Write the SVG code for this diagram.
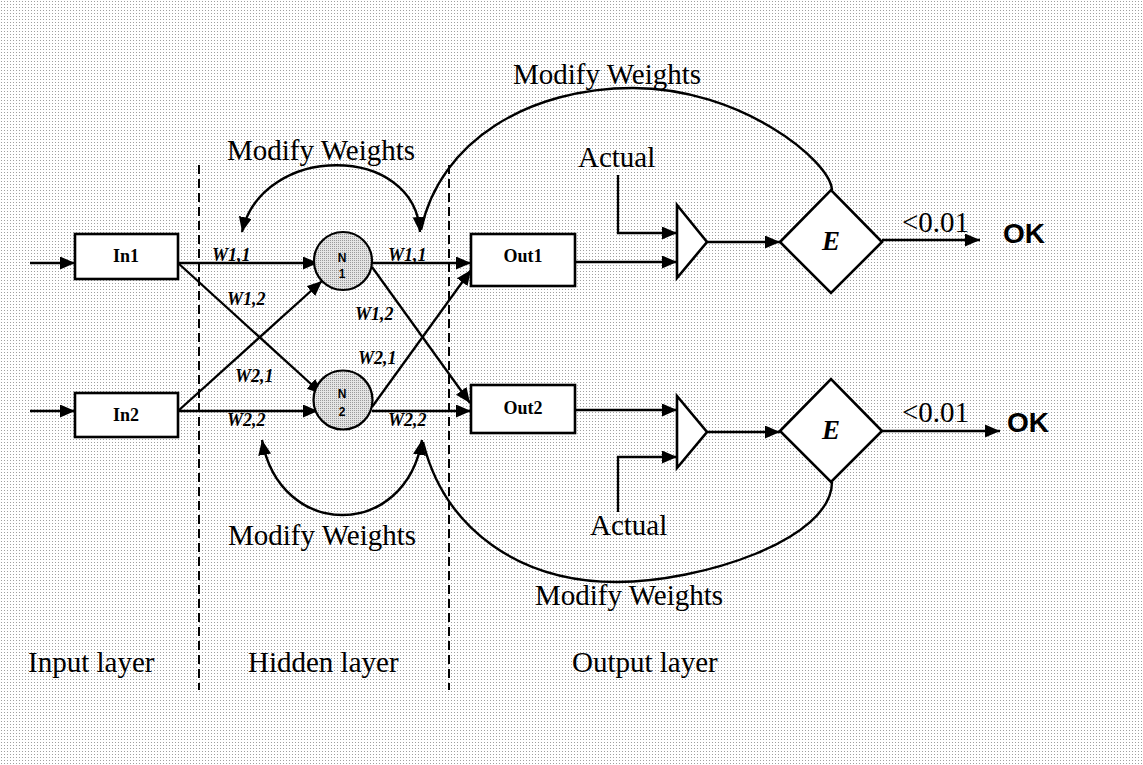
<svg xmlns="http://www.w3.org/2000/svg" width="1143" height="765" viewBox="0 0 1143 765">
  <defs>
    <pattern id="dots" patternUnits="userSpaceOnUse" width="3" height="3">
      <rect width="3" height="3" fill="#ffffff"/>
      <rect x="1" y="1" width="1" height="1" fill="#a0a0a0"/>
    </pattern>
    <pattern id="shade" patternUnits="userSpaceOnUse" width="2" height="2">
      <rect width="2" height="2" fill="#e4e4e4"/>
      <rect x="0" y="0" width="1" height="1" fill="#9a9a9a"/>
    </pattern>
    <marker id="arrow" markerUnits="userSpaceOnUse" markerWidth="16" markerHeight="14" refX="15" refY="6.5" orient="auto-start-reverse">
      <path d="M0,0 L15,6.5 L0,13 Z" fill="#000"/>
    </marker>
    <style>
      .box { fill: #fff; stroke: #000; stroke-width: 2.6; }
      .neuron { fill: url(#shade); stroke: #000; stroke-width: 2.2; }
      .wire { fill: none; stroke: #000; stroke-width: 2.3; }
      .arr { marker-end: url(#arrow); }
      .loop { fill: none; stroke: #000; stroke-width: 2.4; }
      .divider { stroke: #000; stroke-width: 2; stroke-dasharray: 9 5; }
      .lbl { font-family: "Liberation Serif", "Times New Roman", serif; font-size: 29px; fill: #000; }
      .node { font-family: "Liberation Serif", "Times New Roman", serif; font-size: 18px; font-weight: bold; text-anchor: middle; }
      .w { font-family: "Liberation Serif", "Times New Roman", serif; font-size: 18px; font-weight: bold; font-style: italic; }
      .nid { font-family: "Liberation Sans", Arial, sans-serif; font-size: 12px; font-weight: bold; text-anchor: middle; }
      .ok { font-family: "Liberation Sans", Arial, sans-serif; font-size: 28px; font-weight: bold; }
      .err { font-family: "Liberation Serif", "Times New Roman", serif; font-size: 27px; font-weight: bold; font-style: italic; text-anchor: middle; }
    </style>
  </defs>

  <rect width="1143" height="765" fill="url(#dots)"/>

  <!-- layer dividers -->
  <g id="dividers">
    <line class="divider" x1="199" y1="165" x2="199" y2="690"/>
    <line class="divider" x1="449" y1="165" x2="449" y2="690"/>
  </g>

  <!-- connectors -->
  <g id="connectors">
    <line class="wire arr" x1="30" y1="263" x2="75" y2="263"/>
    <line class="wire arr" x1="30" y1="411" x2="75" y2="411"/>

    <line class="wire arr" x1="178" y1="263" x2="318" y2="263"/>
    <line class="wire arr" x1="178" y1="263" x2="322" y2="394"/>
    <line class="wire arr" x1="178" y1="411" x2="322" y2="281"/>
    <line class="wire arr" x1="178" y1="411" x2="318" y2="411"/>

    <line class="wire arr" x1="372" y1="263" x2="471" y2="263"/>
    <line class="wire arr" x1="372" y1="267" x2="470" y2="403"/>
    <line class="wire arr" x1="372" y1="407" x2="471" y2="270"/>
    <line class="wire arr" x1="372" y1="411" x2="471" y2="411"/>

    <line class="wire arr" x1="575" y1="262" x2="677" y2="262"/>
    <polyline class="wire arr" points="618,175 618,233 677,233"/>
    <line class="wire arr" x1="707" y1="242" x2="780" y2="242"/>
    <line class="wire arr" x1="882" y1="240" x2="980" y2="240"/>

    <line class="wire arr" x1="575" y1="410" x2="677" y2="410"/>
    <polyline class="wire arr" points="618,512 618,457 677,457"/>
    <line class="wire arr" x1="707" y1="432" x2="780" y2="432"/>
    <line class="wire arr" x1="882" y1="431" x2="1000" y2="431"/>

    <!-- weight feedback loops -->
    <path class="loop" d="M242,232 C262,143 415,143 420,232" marker-start="url(#arrow)" marker-end="url(#arrow)"/>
    <path class="loop" d="M832,190 C830,160 740,88 633,88 C530,88 440,140 421,230"/>
    <path class="loop" d="M262,440 C280,540 405,540 422,440" marker-start="url(#arrow)" marker-end="url(#arrow)"/>
    <path class="loop" d="M832,482 C832,540 700,582 617,582 C520,582 445,530 423,442"/>
  </g>

  <!-- input layer -->
  <g id="in1">
    <rect class="box" x="75" y="234" width="103" height="45"/>
    <text class="node" x="126" y="262">In1</text>
  </g>
  <g id="in2">
    <rect class="box" x="75" y="393" width="103" height="44"/>
    <text class="node" x="126" y="421">In2</text>
  </g>

  <!-- hidden layer -->
  <g id="n1">
    <circle class="neuron" cx="343" cy="261" r="29"/>
    <text class="nid" x="342" y="262">N</text>
    <text class="nid" x="342" y="278">1</text>
  </g>
  <g id="n2">
    <circle class="neuron" cx="343" cy="400" r="29.5"/>
    <text class="nid" x="342" y="398">N</text>
    <text class="nid" x="342" y="416">2</text>
  </g>

  <!-- output layer -->
  <g id="out1">
    <rect class="box" x="471" y="234" width="104" height="52"/>
    <text class="node" x="523" y="262">Out1</text>
  </g>
  <g id="out2">
    <rect class="box" x="471" y="385" width="104" height="48"/>
    <text class="node" x="523" y="414">Out2</text>
  </g>

  <g id="sum1">
    <polygon class="box" points="677,205 707,242 677,278"/>
  </g>
  <g id="sum2">
    <polygon class="box" points="677,396 707,432 677,468"/>
  </g>

  <g id="err1">
    <polygon class="box" points="780,242 831,190 882,242 831,293"/>
    <text class="err" x="831" y="250">E</text>
  </g>
  <g id="err2">
    <polygon class="box" points="780,431 831,379 882,431 831,482"/>
    <text class="err" x="831" y="439">E</text>
  </g>

  <!-- weight labels -->
  <g id="weights">
    <text class="w" x="212" y="261">W1,1</text>
    <text class="w" x="227" y="305">W1,2</text>
    <text class="w" x="235" y="382">W2,1</text>
    <text class="w" x="227" y="426">W2,2</text>
    <text class="w" x="388" y="261">W1,1</text>
    <text class="w" x="355" y="320">W1,2</text>
    <text class="w" x="358" y="364">W2,1</text>
    <text class="w" x="388" y="426">W2,2</text>
  </g>

  <!-- annotations -->
  <g id="labels">
    <text class="lbl" x="513" y="84">Modify Weights</text>
    <text class="lbl" x="227" y="160">Modify Weights</text>
    <text class="lbl" x="228" y="545">Modify Weights</text>
    <text class="lbl" x="535" y="605">Modify Weights</text>
    <text class="lbl" x="578" y="167">Actual</text>
    <text class="lbl" x="590" y="535">Actual</text>
    <text class="lbl" x="902" y="232">&lt;0.01</text>
    <text class="lbl" x="902" y="422">&lt;0.01</text>
    <text class="ok" x="1003" y="243">OK</text>
    <text class="ok" x="1007" y="432">OK</text>
    <text class="lbl" x="28" y="672">Input layer</text>
    <text class="lbl" x="248" y="672">Hidden layer</text>
    <text class="lbl" x="572" y="672">Output layer</text>
  </g>
</svg>
